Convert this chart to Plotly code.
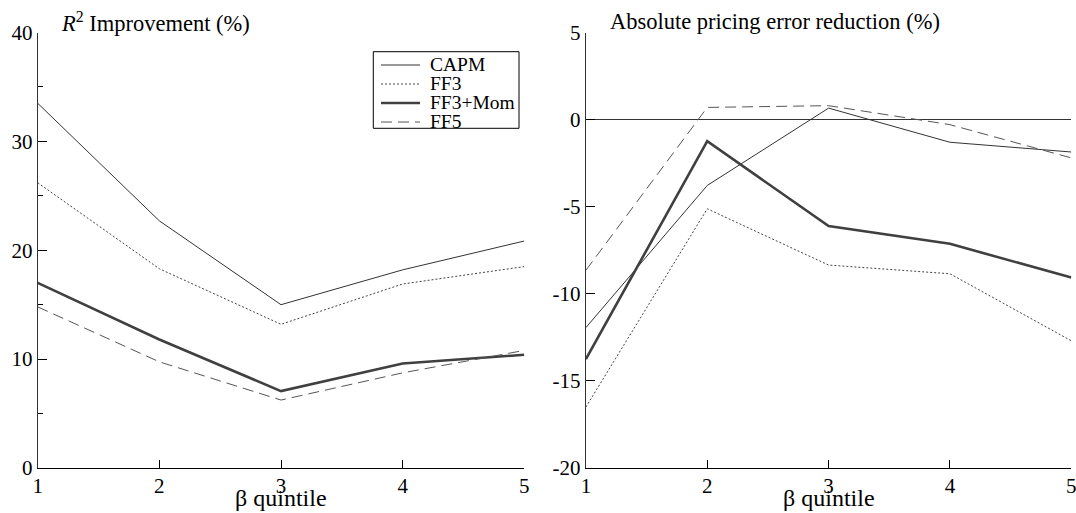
import plotly.graph_objects as go

quintiles = [1, 2, 3, 4, 5]
models = ["CAPM", "FF3", "FF3+Mom", "FF5"]

r2_capm = [33.5, 22.7, 15.0, 18.2, 20.85]
r2_ff3 = [26.2, 18.3, 13.2, 16.9, 18.5]
r2_ffmom = [17.0, 11.8, 7.06, 9.6, 10.4]
r2_ff5 = [14.8, 9.75, 6.24, 8.74, 10.8]

ape_capm = [-11.94, -3.78, 0.66, -1.3, -1.86]
ape_ff3 = [-16.5, -5.12, -8.35, -8.85, -12.7]
ape_ffmom = [-13.75, -1.24, -6.11, -7.13, -9.07]
ape_ff5 = [-8.65, 0.7, 0.8, -0.29, -2.2]

panel_titles = ["<i>R</i><sup>2</sup> Improvement (%)", "Absolute pricing error reduction (%)"]
x_title = "β quintile"
r2_ticks = [0, 10, 20, 30, 40]
r2_minor = [5, 15, 25, 35]
ape_ticks = [-20, -15, -10, -5, 0, 5]

styles = {
    "CAPM": dict(color="#333333", width=1, dash="solid"),
    "FF3": dict(color="#444444", width=1, dash="2px,2px"),
    "FF3+Mom": dict(color="#404040", width=2.6, dash="solid"),
    "FF5": dict(color="#555555", width=1, dash="11px,6px"),
}

FONT = "Liberation Serif, Times New Roman, serif"
W, H = 1076, 513


def px(v):
    return v / W


def py(v):
    return 1 - v / H


fig = go.Figure()
for name, ys in zip(models, [r2_capm, r2_ff3, r2_ffmom, r2_ff5]):
    fig.add_trace(go.Scatter(x=quintiles, y=ys, mode="lines", name=name,
                             line=styles[name], xaxis="x", yaxis="y", showlegend=False))
for name, ys in zip(models, [ape_capm, ape_ff3, ape_ffmom, ape_ff5]):
    fig.add_trace(go.Scatter(x=quintiles, y=ys, mode="lines", name=name,
                             line=styles[name], xaxis="x2", yaxis="y2", showlegend=False))

ydom = [py(468), py(32.5)]
tickfont = dict(size=21, family=FONT, color="black")
common_x = dict(range=[1, 5], tickvals=quintiles, ticks="inside", ticklen=8, tickwidth=1,
                tickcolor="black", showline=True, linecolor="black", linewidth=1.2,
                showgrid=False, zeroline=False, tickfont=tickfont, automargin=False,
                ticklabelstandoff=-1, ticklabeloverflow="allow")
common_y = dict(ticks="inside", ticklen=9, tickcolor="black", showline=True,
                linecolor="#333333", linewidth=1.2, showgrid=False, tickfont=tickfont,
                automargin=False, ticklabelstandoff=0, ticklabeloverflow="allow")

annotations = [
    dict(text=panel_titles[0], x=px(59), y=py(22), xref="paper", yref="paper",
         xanchor="left", yanchor="middle", showarrow=False,
         font=dict(size=22.5, family=FONT, color="black")),
    dict(text=panel_titles[1], x=px(608), y=py(21), xref="paper", yref="paper",
         xanchor="left", yanchor="middle", showarrow=False,
         font=dict(size=22.5, family=FONT, color="black")),
    dict(text=x_title, x=(px(37.7) + px(524.3)) / 2, y=0, xref="paper", yref="paper",
         xanchor="center", yanchor="bottom", showarrow=False,
         font=dict(size=24, family=FONT, color="black")),
    dict(text=x_title, x=(px(585.9) + px(1071.3)) / 2, y=0, xref="paper", yref="paper",
         xanchor="center", yanchor="bottom", showarrow=False,
         font=dict(size=24, family=FONT, color="black")),
]

# legend key drawn as decoration (not data)
shapes = [dict(type="rect", xref="paper", yref="paper", x0=px(373.3), x1=px(519),
               y0=py(128.3), y1=py(51.7), line=dict(color="black", width=1),
               fillcolor="white", layer="above")]
rows = [65, 84, 103, 122]
for name, ry in zip(models, rows):
    st = styles[name]
    shapes.append(dict(type="line", xref="paper", yref="paper", x0=px(381), x1=px(420),
                       y0=py(ry), y1=py(ry),
                       line=dict(color=st["color"], width=st["width"], dash=st["dash"]),
                       layer="above"))
    annotations.append(dict(text=name, x=px(427.5), y=py(ry - 0.5), xref="paper", yref="paper",
                            xanchor="left", yanchor="middle", showarrow=False,
                            font=dict(size=19.5, family=FONT, color="black")))

fig.update_layout(
    width=W, height=H,
    margin=dict(l=0, r=0, t=0, b=0),
    paper_bgcolor="white", plot_bgcolor="white",
    font=dict(family=FONT, color="black"),
    showlegend=False,
    xaxis=dict(domain=[px(37.7), px(524.3)], anchor="y", **common_x),
    xaxis2=dict(domain=[px(585.9), px(1071.3)], anchor="y2", **common_x),
    yaxis=dict(domain=ydom, anchor="x", range=[0, 40], tickvals=r2_ticks, zeroline=False,
               minor=dict(tickvals=r2_minor, ticks="inside", ticklen=5, tickcolor="black"),
               **common_y),
    yaxis2=dict(domain=ydom, anchor="x2", range=[-20, 5], tickvals=ape_ticks,
                ticktext=[str(t) for t in ape_ticks],
                zeroline=True, zerolinecolor="#333333", zerolinewidth=1, **common_y),
    annotations=annotations,
    shapes=shapes,
)

fig.write_html("out.html", config={"displayModeBar": False},
               post_script="document.body.style.margin='0px';")
